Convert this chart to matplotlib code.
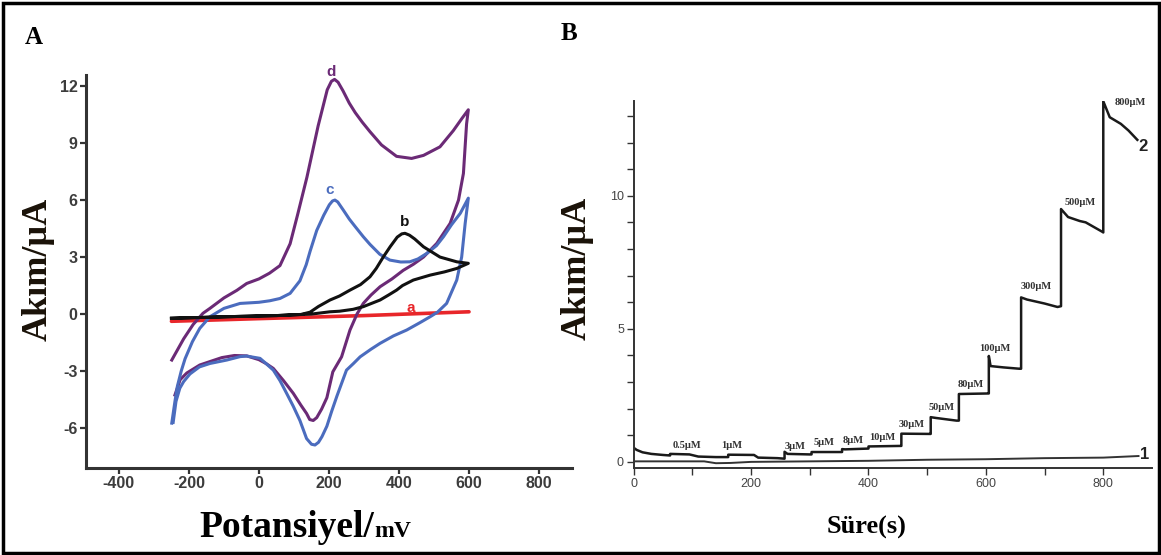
import matplotlib
matplotlib.use('Agg')
import matplotlib.pyplot as plt
from matplotlib.patches import Rectangle
from matplotlib.ticker import MultipleLocator

plt.rcParams['axes.unicode_minus'] = False

# ---------------- Panel A: cyclic voltammograms ----------------
# curve a (red)
a_E = [-250, 0, 300, 600]
a_I = [-0.38, -0.24, -0.08, 0.12]

# curve b (black)
b_E = [-250, -150, -50, 50, 120, 146, 170, 203, 230, 260, 290, 317, 335, 355, 375, 395, 408, 417, 430, 445, 470, 517, 565, 598,
       565, 530, 489, 441, 410, 393, 370, 346, 320, 298, 269, 230, 203, 150, 50, -50, -150, -250]
b_I = [-0.22, -0.17, -0.12, -0.08, -0.02, 0.10, 0.40, 0.74, 0.95, 1.26, 1.55, 1.96, 2.40, 3.00, 3.55, 4.05, 4.22, 4.25, 4.15, 3.95, 3.54, 3.00, 2.75, 2.67,
       2.40, 2.22, 2.05, 1.79, 1.50, 1.26, 1.00, 0.74, 0.55, 0.39, 0.25, 0.15, 0.12, 0.00, -0.08, -0.12, -0.17, -0.22]

# curve c (blue)
c_E = [-249, -240, -233, -222, -211, -190, -169, -140, -100, -54, 0, 31, 60, 89, 117, 135, 146, 165, 185, 201, 210, 217, 225, 241, 258, 275, 298, 317,
       345, 374, 405, 431, 454, 480, 507, 527, 550, 575, 598,
       589, 579, 565, 536, 510, 489, 460, 422, 384, 346, 320, 289, 270, 250, 237, 223, 208, 194, 180, 170, 160, 150, 136, 117,
       98, 79, 60, 41, 20, 3, -35, -54, -92, -140, -170, -197, -215, -226, -237, -245]
c_I = [-5.74, -4.60, -3.80, -3.00, -2.35, -1.45, -0.75, -0.14, 0.30, 0.56, 0.62, 0.70, 0.82, 1.09, 1.75, 2.60, 3.30, 4.40, 5.20, 5.75, 5.95, 6.00, 5.90, 5.47, 5.00, 4.60, 4.07, 3.67,
       3.15, 2.84, 2.74, 2.75, 2.90, 3.20, 3.60, 4.07, 4.70, 5.30, 6.10,
       4.77, 3.00, 1.79, 0.56, 0.10, -0.14, -0.45, -0.84, -1.15, -1.54, -1.85, -2.25, -2.60, -2.95, -3.60, -4.30, -5.10, -5.90, -6.45, -6.75, -6.89, -6.85, -6.55, -5.60,
       -4.85, -4.17, -3.50, -2.95, -2.60, -2.33, -2.21, -2.24, -2.42, -2.60, -2.78, -3.15, -3.55, -3.90, -4.60, -5.70]

# curve d (purple)
d_E = [-249, -215, -188, -160, -140, -100, -63, -35, 0, 30, 60, 89, 110, 137, 169, 195, 207, 216, 226, 240, 258, 275, 295, 317, 350, 393, 436, 470, 517, 555, 580, 598,
       593, 584, 570, 546, 508, 470, 441, 412, 380, 346, 320, 298, 280, 260, 236, 211, 194, 179, 165, 155, 145, 136, 120,
       98, 70, 41, 20, 0, -35, -70, -106, -140, -169, -206, -225, -240]
d_I = [-2.42, -1.30, -0.55, 0.04, 0.30, 0.85, 1.25, 1.61, 1.85, 2.15, 2.55, 3.70, 5.20, 7.20, 9.90, 11.80, 12.25, 12.35, 12.20, 11.75, 11.10, 10.60, 10.10, 9.60, 8.90, 8.30, 8.19, 8.35, 8.80, 9.65, 10.30, 10.75,
       10.00, 7.40, 6.00, 4.77, 3.72, 3.00, 2.62, 2.30, 1.85, 1.44, 1.00, 0.56, 0.00, -0.84, -2.25, -3.04, -4.40, -5.00, -5.45, -5.60, -5.55, -5.23, -4.80,
       -4.17, -3.50, -2.86, -2.60, -2.40, -2.20, -2.18, -2.29, -2.50, -2.68, -3.10, -3.45, -4.26]

A_xticks = [-400, -200, 0, 200, 400, 600, 800]
A_yticks = [-6, -3, 0, 3, 6, 9, 12]

# ---------------- Panel B: amperometric response ----------------
t2 = [0, 5, 15, 30, 50, 62, 62, 95, 110, 140, 161, 161, 205, 212, 245, 257, 257, 262, 300, 303, 303, 355, 355, 360, 400, 400,
      455, 456, 456, 505, 506, 506, 515, 550, 554, 554, 603, 605, 605, 608, 630, 657, 660, 660, 670, 700, 722, 728, 728,
      740, 760, 770, 790, 798, 800, 800, 811, 830, 843, 858]
i2 = [0.53, 0.45, 0.36, 0.30, 0.26, 0.24, 0.30, 0.28, 0.20, 0.18, 0.18, 0.27, 0.26, 0.16, 0.14, 0.12, 0.38, 0.30, 0.28, 0.28, 0.37, 0.37, 0.48, 0.47, 0.50, 0.58,
      0.60, 0.60, 1.06, 1.05, 1.05, 1.68, 1.65, 1.55, 1.55, 2.55, 2.57, 2.57, 3.98, 3.60, 3.55, 3.50, 3.50, 6.18, 6.10, 5.95, 5.82, 5.85, 9.50,
      9.20, 9.05, 9.00, 8.75, 8.65, 8.62, 13.55, 12.95, 12.70, 12.45, 12.10]
t1 = [0, 120, 140, 165, 200, 300, 400, 500, 600, 700, 750, 800, 860]
i1 = [0.02, 0.02, -0.05, -0.04, 0.00, 0.02, 0.04, 0.08, 0.10, 0.14, 0.15, 0.16, 0.22]

conc_labels = ['0.5µM', '1µM', '3µM', '5µM', '8µM', '10µM', '30µM', '50µM', '80µM', '100µM', '300µM', '500µM', '800µM']
conc_t = [91, 167, 275, 324, 374, 423, 473, 524, 574, 615, 685, 761, 846]
conc_i = [0.62, 0.62, 0.57, 0.73, 0.79, 0.92, 1.42, 2.06, 2.90, 4.25, 6.58, 9.75, 13.50]

B_xticks = [0, 200, 400, 600, 800]
B_yticks = [0, 5, 10]

# ---------------- figure ----------------
W, H = 1161, 555
fig = plt.figure(figsize=(W / 100, H / 100), dpi=100)

serif = ['Liberation Serif', 'DejaVu Serif']
sans = ['Liberation Sans', 'DejaVu Sans']

# Panel A axes
axA = fig.add_axes([86 / W, 1 - 468 / H, (571.6 - 86) / W, (468 - 75) / H])
axA.plot(a_E, a_I, color='#e8262a', lw=2.6, solid_capstyle='round')
axA.plot(d_E, d_I, color='#6b2a76', lw=2.2)
axA.plot(c_E, c_I, color='#4b6cbe', lw=2.2)
axA.plot(b_E, b_I, color='#111111', lw=2.2)
axA.set_xlim(-494, 893)
axA.set_ylim(-8.1, 12.58)
axA.set_xticks(A_xticks)
axA.set_yticks(A_yticks)
for s in ['top', 'right']:
    axA.spines[s].set_visible(False)
for s in ['left', 'bottom']:
    axA.spines[s].set_linewidth(2.2)
    axA.spines[s].set_color('#333333')
axA.tick_params(direction='out', length=4, width=1.6, color='#333333', pad=2)
for lab in axA.get_xticklabels() + axA.get_yticklabels():
    lab.set_fontfamily(sans)
    lab.set_fontweight('bold')
    lab.set_fontsize(11.5)
    lab.set_color('#3c3c3c')
axA.text(205, 12.75, 'd', color='#6b2a76', fontsize=11, fontweight='bold', fontfamily=sans, ha='center', va='center')
axA.text(203, 6.55, 'c', color='#4b6cbe', fontsize=11, fontweight='bold', fontfamily=sans, ha='center', va='center')
axA.text(417, 4.85, 'b', color='#111111', fontsize=11, fontweight='bold', fontfamily=sans, ha='center', va='center')
axA.text(434, 0.3, 'a', color='#e8262a', fontsize=11, fontweight='bold', fontfamily=sans, ha='center', va='center')

# Panel B axes
axB = fig.add_axes([633.7 / W, 1 - 468 / H, (1152 - 633.7) / W, (468 - 101) / H])
axB.plot(t2, i2, color='#1a1a1a', lw=1.8)
axB.plot(t1, i1, color='#333333', lw=1.4)
axB.set_xlim(0, 883)
axB.set_ylim(-0.23, 13.56)
axB.set_xticks(B_xticks)
axB.set_yticks(B_yticks)
axB.xaxis.set_minor_locator(MultipleLocator(100))
axB.yaxis.set_minor_locator(MultipleLocator(1))
for s in ['top', 'right']:
    axB.spines[s].set_visible(False)
for s in ['left', 'bottom']:
    axB.spines[s].set_linewidth(1.4)
    axB.spines[s].set_color('#333333')
axB.tick_params(which='both', direction='out', length=5, width=1.0, color='#333333', pad=2)
for lab in axB.get_xticklabels() + axB.get_yticklabels():
    lab.set_fontfamily(sans)
    lab.set_fontsize(9)
    lab.set_color('#444444')
for lab, tt, ii in zip(conc_labels, conc_t, conc_i):
    axB.text(tt, ii, lab, fontsize=7.5, fontweight='bold', fontfamily=serif, color='#333333', ha='center', va='center')
axB.text(868, 11.84, '2', fontsize=12, fontweight='bold', fontfamily=sans, color='#222222', ha='center', va='center')
axB.text(871, 0.26, '1', fontsize=12, fontweight='bold', fontfamily=sans, color='#222222', ha='center', va='center')

# Panel letters and axis titles
fig.text(34 / W, 1 - 37 / H, 'A', fontsize=18, fontweight='bold', fontfamily=serif, ha='center', va='center')
fig.text(569 / W, 1 - 34 / H, 'B', fontsize=18, fontweight='bold', fontfamily=serif, ha='center', va='center')
fig.text(38 / W, 1 - 269 / H, 'Akım/µA', fontsize=26, fontweight='bold', fontfamily=serif, color='#1a1208',
         rotation=90, ha='center', va='center')
fig.text(577 / W, 1 - 268 / H, 'Akım/µA', fontsize=26, fontweight='bold', fontfamily=serif, color='#1a1208',
         rotation=90, ha='center', va='center')
fig.text(374 / W, 1 - 537 / H, 'Potansiyel/', fontsize=27, fontweight='bold', fontfamily=serif, ha='right', va='baseline')
fig.text(374 / W, 1 - 537 / H, 'mV', fontsize=17, fontweight='bold', fontfamily=serif, ha='left', va='baseline')
fig.text(867 / W, 1 - 527 / H, 'Süre(s)', fontsize=19, fontweight='bold', fontfamily=serif, ha='center', va='center')

# outer frame
fig.patches.append(Rectangle((2.5 / W, 2.5 / H), 1 - 5 / W, 1 - 5 / H, transform=fig.transFigure,
                             fill=False, edgecolor='black', linewidth=2.5))

fig.savefig('out.png', dpi=100)
